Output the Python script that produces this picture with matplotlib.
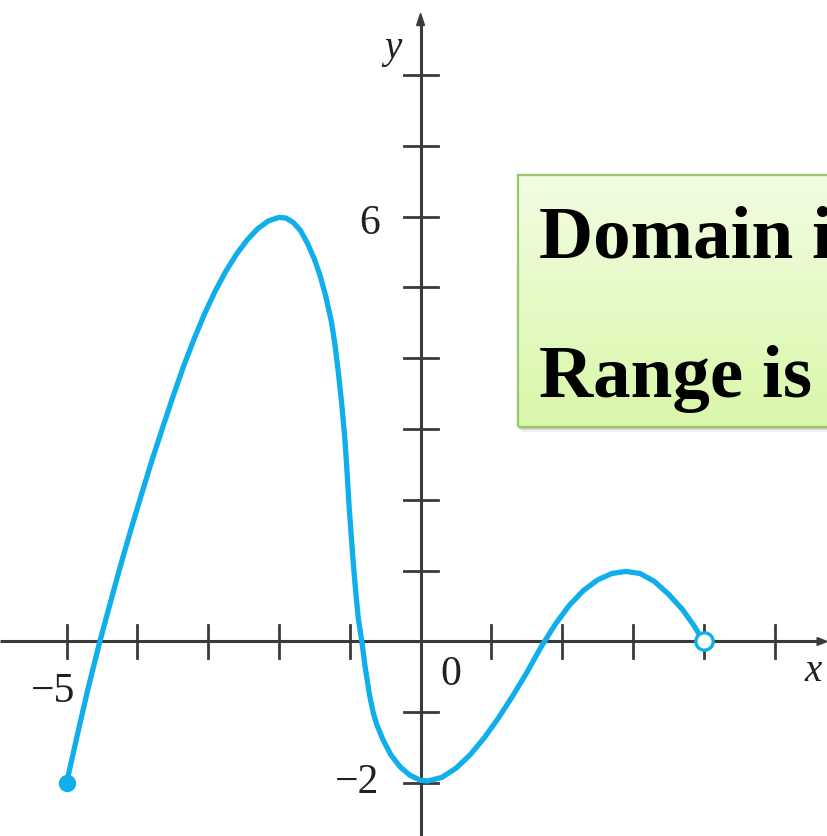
import numpy as np
import matplotlib
matplotlib.use("Agg")
import matplotlib.pyplot as plt
from matplotlib.patches import Rectangle, Polygon

# Graph of f on [-5, 4)
curve_x = [-5.00, -4.85, -4.70, -4.55, -4.53, -4.40, -4.25, -4.10, -3.95, -3.80,
           -3.65, -3.50, -3.35, -3.20, -3.05, -2.90, -2.75, -2.60, -2.45, -2.30,
           -2.15, -2.00, -1.90, -1.80, -1.70, -1.60, -1.50, -1.42, -1.34, -1.26,
           -1.21, -1.16, -1.11, -1.07, -1.04, -1.01, -0.975, -0.94, -0.91, -0.88,
           -0.83, -0.78, -0.72, -0.67, -0.62, -0.53, -0.42, -0.29, -0.15, 0.00,
           0.10, 0.30, 0.50, 0.70, 0.90, 1.10, 1.30, 1.50, 1.70, 1.90,
           2.10, 2.30, 2.50, 2.70, 2.90, 3.10, 3.30, 3.50, 3.70, 3.85, 4.00]
curve_y = [-2.00, -1.33, -0.68, -0.08, 0.00, 0.48, 1.03, 1.55, 2.05, 2.54,
           3.00, 3.45, 3.88, 4.27, 4.63, 4.95, 5.23, 5.47, 5.67, 5.83,
           5.94, 5.99, 5.98, 5.92, 5.81, 5.63, 5.40, 5.17, 4.88, 4.52,
           4.20, 3.79, 3.32, 2.87, 2.42, 1.92, 1.43, 0.98, 0.64, 0.33,
           0.00, -0.38, -0.76, -1.00, -1.17, -1.39, -1.60, -1.77, -1.89, -1.96,
           -1.97, -1.92, -1.79, -1.60, -1.36, -1.08, -0.77, -0.44, -0.08, 0.24,
           0.51, 0.72, 0.87, 0.96, 0.99, 0.96, 0.85, 0.67, 0.45, 0.24, 0.00]

x_ticks = [-5, -4, -3, -2, -1, 1, 2, 3, 4, 5]
y_ticks = [-2, -1, 1, 2, 3, 4, 5, 6, 7, 8]
# label text: (x, y, font size)
tick_labels = {"−5": (-5.19, -0.71, 30), "0": (0.43, -0.47, 30),
               "6": (-0.72, 5.90, 30), "−2": (-0.90, -2.0, 30)}

box_lines = ["Domain is", "Range is"]

BLUE = "#10AEEA"
AXIS = "#3a3a3a"
SERIF = "Liberation Serif"

fig = plt.figure(figsize=(8.27, 8.36), dpi=100)
ax = fig.add_axes([0, 0, 1, 1])
ax.set_xlim(-5.94, 5.74)
ax.set_ylim(-2.747, 9.06)
ax.axis("off")

# axes with arrowheads
ax.plot([-5.94, 5.66], [0, 0], color=AXIS, lw=2.2, solid_capstyle="butt", zorder=2)
ax.plot([0, 0], [-2.8, 8.72], color=AXIS, lw=2.2, solid_capstyle="butt", zorder=2)
ax.add_patch(Polygon([[5.74, 0], [5.60, 0.055], [5.60, -0.055]], closed=True,
                     color=AXIS, zorder=2))
ax.add_patch(Polygon([[0, 8.87], [-0.055, 8.70], [0.055, 8.70]], closed=True,
                     color=AXIS, zorder=2))

tl = 0.24
for t in x_ticks:
    ax.plot([t, t], [-tl, tl], color=AXIS, lw=2.0, zorder=2)
for t in y_ticks:
    ax.plot([-tl, tl], [t, t], color=AXIS, lw=2.0, zorder=2)

for s, (tx, ty, fs) in tick_labels.items():
    ax.text(tx, ty, s, fontsize=fs, family=SERIF, color="#231f20",
            ha="center", va="center", zorder=3)
ax.text(-0.39, 8.38, "y", fontsize=28, family=SERIF, style="italic",
        color="#231f20", ha="center", va="center", zorder=3)
ax.text(5.55, -0.42, "x", fontsize=28, family=SERIF, style="italic",
        color="#231f20", ha="center", va="center", zorder=3)

# curve and endpoints
ax.plot(curve_x, curve_y, color=BLUE, lw=3.8, solid_joinstyle="round",
        solid_capstyle="round", zorder=4)
ax.plot(curve_x[0], curve_y[0], "o", ms=11.5, color=BLUE, zorder=5)
ax.plot(curve_x[-1], curve_y[-1], "o", ms=12.5, mfc="white", mec=BLUE,
        mew=2.4, zorder=5)

# note box with soft shadow and green gradient
bx0, bx1 = 1.374, 6.5
by0, by1 = 3.03, 6.59
for k, a in zip([0.07, 0.05, 0.03], [0.10, 0.16, 0.22]):
    ax.add_patch(Rectangle((bx0 + k * 0.6, by0 - k), bx1 - bx0, by1 - by0,
                           facecolor="#777777", edgecolor="none", alpha=a,
                           zorder=6))
grad = np.linspace(0, 1, 256).reshape(-1, 1)
top = np.array([0.95, 0.99, 0.89])
bot = np.array([0.85, 0.97, 0.66])
img = top[None, None, :] * (1 - grad[:, :, None]) + bot[None, None, :] * grad[:, :, None]
ax.imshow(img, extent=[bx0, bx1, by0, by1], origin="upper", aspect="auto",
          zorder=7)
ax.add_patch(Rectangle((bx0, by0), bx1 - bx0, by1 - by0, facecolor="none",
                       edgecolor="#9cc46c", lw=1.6, zorder=8))
ax.set_xlim(-5.94, 5.74)
ax.set_ylim(-2.747, 9.06)

ax.text(1.671, 5.417, box_lines[0], fontsize=54, family=SERIF,
        fontweight="bold", color="black", va="baseline", ha="left", zorder=9)
ax.text(1.671, 3.453, box_lines[1], fontsize=54, family=SERIF,
        fontweight="bold", color="black", va="baseline", ha="left", zorder=9)

fig.savefig("out.png", dpi=100)
